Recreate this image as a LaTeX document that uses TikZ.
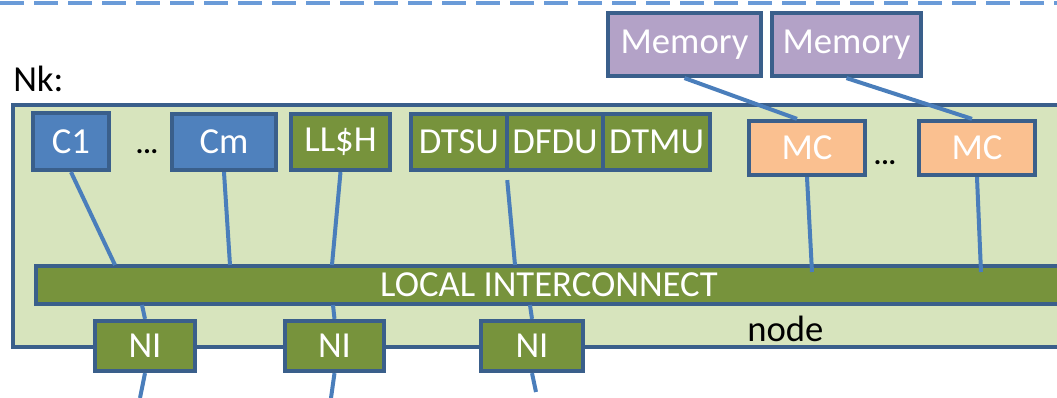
\documentclass[tikz,border=0pt]{standalone}
\usepackage{fontspec}
\setmainfont{Carlito}
\begin{document}
\begin{tikzpicture}[x=0.75pt,y=-0.75pt]
\definecolor{bd}{HTML}{3A5F8B}
\definecolor{ln}{HTML}{4A7EBB}
\definecolor{cblue}{HTML}{4F81BD}
\definecolor{cgreen}{HTML}{77933C}
\definecolor{cpurple}{HTML}{B3A2C7}
\definecolor{corange}{HTML}{FAC090}
\definecolor{cbg}{HTML}{D7E4BD}
\definecolor{cdash}{HTML}{6A9BD8}
\tikzset{
  bx/.style={draw=bd,line width=3.3pt,inner sep=0pt,text=white,
    font=\fontsize{27.5}{30}\selectfont},
  conn/.style={draw=ln,line width=3pt},
  lbl/.style={inner sep=0pt,text=black,font=\fontsize{27.5}{30}\selectfont},
  dots/.style={inner sep=0pt,text=black,font=\bfseries\fontsize{21}{24}\selectfont}
}
\useasboundingbox (0,0) rectangle (1057,398);
% top dashed separator
\coordinate (dl) at (0,3);
\coordinate (dr) at (1057,3);
\draw[cdash,line width=2.6pt,dash pattern=on 18pt off 7.5pt] (dl) -- (dr);
% outer node container
\node[bx,fill=cbg,minimum width=794.9pt,minimum height=181.4pt] (outer) at (543,226) {};
% memories
\node[bx,fill=cpurple,minimum width=114.6pt,minimum height=47.1pt] (mem1) at (684.5,44.5) {Memory};
\node[bx,fill=cpurple,minimum width=111.6pt,minimum height=47.1pt] (mem2) at (846.5,44.5) {Memory};
\node[lbl,anchor=base west] (nk) at (13,92) {Nk:};
% local interconnect
\node[bx,fill=cgreen,minimum width=769.4pt,minimum height=28.4pt] (bar) at (549,285) {LOCAL INTERCONNECT};
% top row
\node[bx,fill=cblue,minimum width=56.9pt,minimum height=42.6pt] (c1) at (71,141.5) {C1};
\node[dots,anchor=base] (dots1) at (147,154) {...};
\node[bx,fill=cblue,minimum width=77.9pt,minimum height=41.9pt] (cm) at (224,142) {Cm};
\node[bx,fill=cgreen,minimum width=74.1pt,minimum height=41.9pt] (llh) at (340.5,142) {LL\$H};
\node[bx,fill=cgreen,minimum width=72.2pt,minimum height=41.9pt] (dtsu) at (458.9,142) {DTSU};
\node[bx,fill=cgreen,minimum width=72.0pt,minimum height=41.9pt] (dfdu) at (555,142) {DFDU};
\node[bx,fill=cgreen,minimum width=80.0pt,minimum height=41.9pt] (dtmu) at (656.6,142) {DTMU};
\node[bx,fill=corange,minimum width=86.9pt,minimum height=40.4pt] (mc1) at (807,148) {MC};
\node[dots,anchor=base] (dots2) at (885,165) {...};
\node[bx,fill=corange,minimum width=86.9pt,minimum height=40.4pt] (mc2) at (977,148) {MC};
% network interfaces
\node[bx,fill=cgreen,minimum width=74.9pt,minimum height=37.4pt] (ni1) at (145,346) {NI};
\node[bx,fill=cgreen,minimum width=74.1pt,minimum height=37.4pt] (ni2) at (334.5,346) {NI};
\node[bx,fill=cgreen,minimum width=76.4pt,minimum height=37.4pt] (ni3) at (532,346) {NI};
\node[lbl,anchor=base west] (nodelbl) at (747,342) {node};
% attach points
\coordinate (a1) at (115,265);
\coordinate (a2) at (230,265);
\coordinate (a3) at (332,265);
\coordinate (a4) at (515,265);
\coordinate (a5) at (812,272);
\coordinate (a6) at (981,272);
\coordinate (b1) at (142,305);
\coordinate (b2) at (333,305);
\coordinate (b3) at (530,305);
\coordinate (e1) at (140,398);
\coordinate (e2) at (331,398);
\coordinate (e3) at (536,392);
% connectors
\draw[conn] (c1.south) -- (a1);
\draw[conn] (cm.south) -- (a2);
\draw[conn] (llh.south) -- (a3);
\draw[conn] ([xshift=-1.5pt,yshift=-6pt]dtsu.south east) -- (a4);
\draw[conn] (mc1.south) -- (a5);
\draw[conn] (mc2.south) -- (a6);
\draw[conn] (mem1.south) -- ([xshift=-7.5pt]mc1.north);
\draw[conn] (mem2.south) -- ([xshift=-3.75pt]mc2.north);
\draw[conn] (ni1.north) -- (b1);
\draw[conn] (ni2.north) -- (b2);
\draw[conn] (ni3.north) -- (b3);
\draw[conn] (ni1.south) -- (e1);
\draw[conn] (ni2.south) -- (e2);
\draw[conn] (ni3.south) -- (e3);
\end{tikzpicture}
\end{document}
